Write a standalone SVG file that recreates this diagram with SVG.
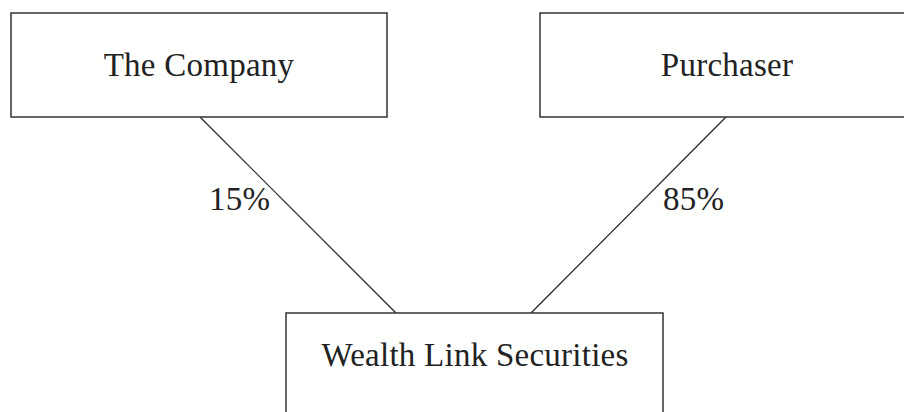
<svg xmlns="http://www.w3.org/2000/svg" width="904" height="412" viewBox="0 0 904 412">
<style>
.box{fill:#fff;stroke:#333;stroke-width:1.5}
.lbl{font-family:"Liberation Serif","Times New Roman",serif;font-size:33px;fill:#222;letter-spacing:0.25px}
.conn{stroke:#222;stroke-width:1.2;fill:none}
</style>
<rect width="904" height="412" fill="#fff"/>
<g id="connectors">
<line class="conn" x1="200" y1="117" x2="396" y2="313"/>
<line class="conn" x1="726" y1="117" x2="531" y2="313"/>
<text class="lbl" x="209" y="210">15%</text>
<text class="lbl" x="663" y="210">85%</text>
</g>
<g id="company">
<rect class="box" x="11" y="13" width="376" height="104"/>
<text class="lbl" x="199" y="76" text-anchor="middle">The Company</text>
</g>
<g id="purchaser">
<rect class="box" x="540" y="13" width="380" height="104"/>
<text class="lbl" x="727" y="76" text-anchor="middle">Purchaser</text>
</g>
<g id="wealthlink">
<rect class="box" x="286" y="313" width="377" height="120"/>
<text class="lbl" x="475" y="366" text-anchor="middle">Wealth Link Securities</text>
</g>
</svg>
